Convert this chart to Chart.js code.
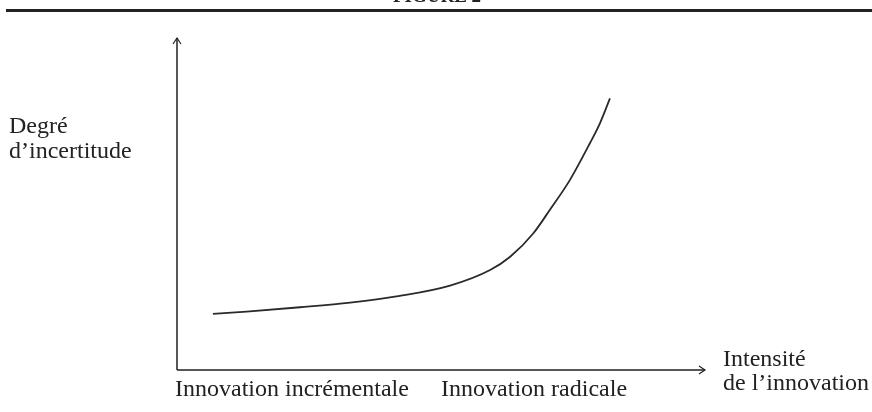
<!DOCTYPE html>
<html>
<head>
<meta charset="utf-8">
<script src="https://cdn.jsdelivr.net/npm/chart.js@4/dist/chart.umd.min.js"></script>
<style>
  html, body { margin: 0; padding: 0; background: #fff; }
  canvas { display: block; }
</style>
</head>
<body>
<canvas id="figChart" width="872" height="412"></canvas>
<script>
// curve (x = intensity 0..100, y = uncertainty 0..100)
var intensite = [6.8, 13.2, 23.3, 32.8, 42.2, 51.7, 59.3, 63.1, 67.5, 70.6, 74.4, 78.2, 80.1, 82.0];
var incertitude = [16.9, 17.6, 18.9, 20.3, 22.3, 25.4, 30.1, 34.1, 41.2, 48.2, 57.2, 68.3, 74.3, 81.8];
var xLabels = ['Innovation incrémentale', 'Innovation radicale'];
var xLabelPos = [0, 50.4];
var yTitle = ['Degré', 'd\u2019incertitude'];
var xTitle = ['Intensité', 'de l\u2019innovation'];
var figTitle = 'FIGURE 2';

var points = intensite.map(function (v, i) {
    return { x: v, y: incertitude[i] };
});

var serif = '"Liberation Serif", "DejaVu Serif", serif';

// draws the arrowed axes, the rule and the texts around the plot
var decor = {
    id: 'decor',
    afterDraw: function (chart) {
        var c = chart.ctx;
        var xs = chart.scales.x, ys = chart.scales.y;
        var x0 = xs.getPixelForValue(0), x1 = xs.getPixelForValue(100);
        var y0 = ys.getPixelForValue(0), y1 = ys.getPixelForValue(100);
        c.save();

        // top rule + cut-off title
        c.fillStyle = '#222';
        c.fillRect(6, 9, 866, 3);
        c.font = 'bold 19px ' + serif;
        c.textAlign = 'center';
        c.textBaseline = 'alphabetic';
        c.fillText(figTitle, 437, 2);

        // axes
        c.strokeStyle = '#222';
        c.lineWidth = 1.5;
        c.beginPath();
        c.moveTo(x0, y0);
        c.lineTo(x0, y1);
        c.moveTo(x0, y0);
        c.lineTo(x1, y0);
        c.stroke();
        c.lineWidth = 1.2;
        c.beginPath();
        c.moveTo(x0 - 4, y1 + 6);
        c.lineTo(x0, y1);
        c.lineTo(x0 + 4, y1 + 6);
        c.moveTo(x1 - 6, y0 - 4);
        c.lineTo(x1, y0);
        c.lineTo(x1 - 6, y0 + 4);
        c.stroke();

        // texts
        c.fillStyle = '#222';
        c.font = '24px ' + serif;
        c.textAlign = 'left';
        c.fillText(yTitle[0], 9, 133);
        c.fillText(yTitle[1], 9, 158);
        c.fillText(xTitle[0], 723, 366);
        c.fillText(xTitle[1], 723, 390);
        xLabels.forEach(function (t, i) {
            c.fillText(t, xs.getPixelForValue(xLabelPos[i]) - 2, 396);
        });
        c.restore();
    }
};

var ctx = document.getElementById('figChart').getContext('2d');
var chart = new Chart(ctx, {
    type: 'scatter',
    data: {
        datasets: [{
            data: points,
            showLine: true,
            borderColor: '#2a2a2a',
            borderWidth: 1.8,
            pointRadius: 0,
            cubicInterpolationMode: 'monotone',
            fill: false
        }]
    },
    options: {
        responsive: false,
        animation: false,
        layout: { padding: { left: 177, right: 167, top: 38, bottom: 42 } },
        plugins: { legend: { display: false }, tooltip: { enabled: false } },
        scales: {
            x: { type: 'linear', min: 0, max: 100, display: false },
            y: { type: 'linear', min: 0, max: 100, display: false }
        }
    },
    plugins: [decor]
});
</script>
</body>
</html>
